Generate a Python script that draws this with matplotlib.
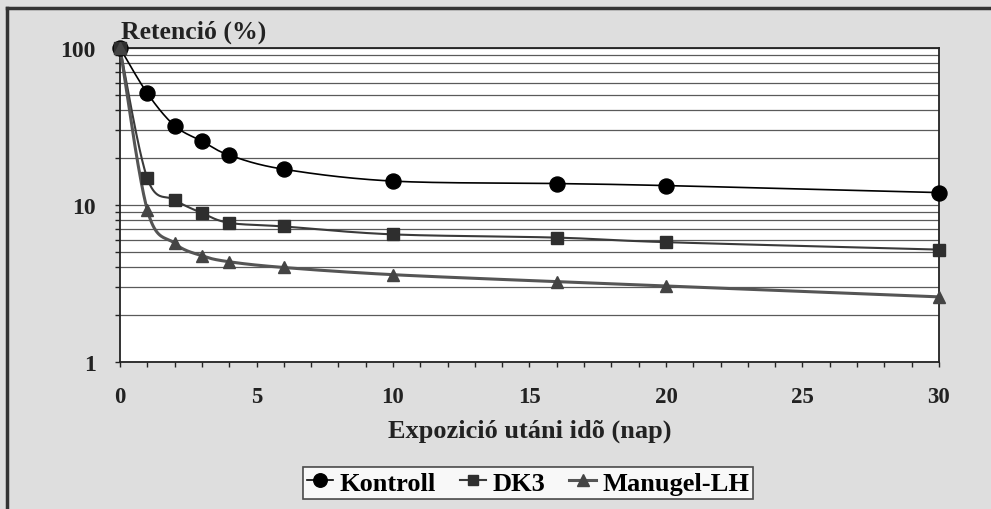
import numpy as np
import matplotlib.pyplot as plt
from matplotlib.lines import Line2D
from matplotlib.ticker import FixedLocator, NullFormatter

# adatok (leolvasva a grafikonrol)
nap = [0, 1, 2, 3, 4, 6, 10, 16, 20, 30]
kontroll = [100, 51.5, 32.0, 25.5, 20.8, 16.9, 14.2, 13.7, 13.3, 12.0]
dk3 = [100, 14.8, 10.8, 8.9, 7.7, 7.3, 6.5, 6.2, 5.8, 5.2]
manugel = [100, 9.3, 5.7, 4.75, 4.35, 4.0, 3.6, 3.25, 3.05, 2.6]

nevek = ["Kontroll", "DK3", "Manugel-LH"]
y_tick_labels = ["1", "10", "100"]


def simitott(x, y, n=40):
    # Catmull-Rom jellegu simitas log-skalan (mint az Excel "smoothed line")
    x = np.asarray(x, float)
    ly = np.log10(np.asarray(y, float))
    px = np.concatenate([[x[0]], x, [x[-1]]])
    py = np.concatenate([[ly[0]], ly, [ly[-1]]])
    xs, ys = [], []
    t = np.linspace(0, 1, n)
    for i in range(1, len(px) - 2):
        p0 = np.array([px[i], py[i]])
        p1 = np.array([px[i + 1], py[i + 1]])
        c1 = p0 + (p1 - np.array([px[i - 1], py[i - 1]])) / 6
        c2 = p1 - (np.array([px[i + 2], py[i + 2]]) - p0) / 6
        b = ((1 - t) ** 3)[:, None] * p0 + (3 * (1 - t) ** 2 * t)[:, None] * c1 \
            + (3 * (1 - t) * t ** 2)[:, None] * c2 + (t ** 3)[:, None] * p1
        xs.extend(b[:, 0])
        ys.extend(b[:, 1])
    return np.array(xs), 10 ** np.array(ys)


plt.rcParams['font.family'] = ['Liberation Serif', 'DejaVu Serif']
plt.rcParams['font.weight'] = 'bold'

fig = plt.figure(figsize=(9.91, 5.10), dpi=100, facecolor='#dedede')
ax = fig.add_axes([0.1211, 0.2882, 0.8264, 0.6157])
ax.set_facecolor('white')

# keret a kep szelen
fig.add_artist(Line2D([0.007, 1.0], [0.983, 0.983], color='#333333', lw=2.5, transform=fig.transFigure))
fig.add_artist(Line2D([0.007, 0.007], [0.0, 0.983], color='#333333', lw=2.5, transform=fig.transFigure))

stilusok = [
    dict(marker='o', ms=10.8, color='black', lw=1.2, mfc='black', mec='black'),
    dict(marker='s', ms=8, color='#3a3a3a', lw=1.5, mfc='#2e2e2e', mec='#2e2e2e'),
    dict(marker='^', ms=9, color='#555555', lw=2.2, mfc='#444444', mec='#444444'),
]
sorok = [kontroll, dk3, manugel]

handles = []
for ertek, nev, st in zip(sorok, nevek, stilusok):
    sx, sy = simitott(nap, ertek)
    ax.plot(sx, sy, color=st['color'], lw=st['lw'], zorder=3)
    ax.plot(nap, ertek, ls='none', marker=st['marker'], ms=st['ms'],
            mfc=st['mfc'], mec=st['mec'], zorder=4, clip_on=False)
    handles.append(Line2D([], [], color=st['color'], lw=st['lw'], marker=st['marker'],
                          ms=st['ms'] * 0.9, mfc=st['mfc'], mec=st['mec'], label=nev))

ax.set_yscale('log')
ax.set_ylim(1, 100)
ax.set_xlim(0, 30)

ax.yaxis.set_major_locator(FixedLocator([1, 10, 100]))
ax.set_yticklabels(y_tick_labels)
minor = [k * d for d in (1, 10) for k in range(2, 10)]
ax.yaxis.set_minor_locator(FixedLocator(minor))
ax.yaxis.set_minor_formatter(NullFormatter())
ax.set_xticks(range(0, 31, 5))
ax.set_xticks(range(0, 31, 1), minor=True)

ax.grid(True, which='both', axis='y', color='#5a5a5a', lw=0.9)
ax.tick_params(axis='both', which='both', direction='out', length=3.5, width=1, colors='#222222')
ax.tick_params(axis='y', which='major', pad=14, labelsize=17)
ax.tick_params(axis='x', which='major', pad=14, labelsize=16.5)
for t in ax.get_xticklabels() + ax.get_yticklabels():
    t.set_fontweight('bold')
    t.set_color('#222222')
for s in ax.spines.values():
    s.set_color('#222222')
    s.set_linewidth(1.3)

ax.set_xlabel("Expozició utáni idõ (nap)", fontsize=19, fontweight='bold', color='#222222', labelpad=8)
fig.text(0.122, 0.937, "Retenció (%)", fontsize=18.5, fontweight='bold', color='#222222', va='center')

leg = fig.legend(handles=handles, loc='center', bbox_to_anchor=(0.533, 0.051), ncol=3,
                 frameon=True, fancybox=False, edgecolor='#222222',
                 handlelength=1.0, handletextpad=0.25, columnspacing=0.9,
                 borderpad=0.15, borderaxespad=0.2, prop={'weight': 'bold', 'size': 19})
leg.get_frame().set_linewidth(1.2)

fig.savefig("out.png", dpi=100, facecolor=fig.get_facecolor())
